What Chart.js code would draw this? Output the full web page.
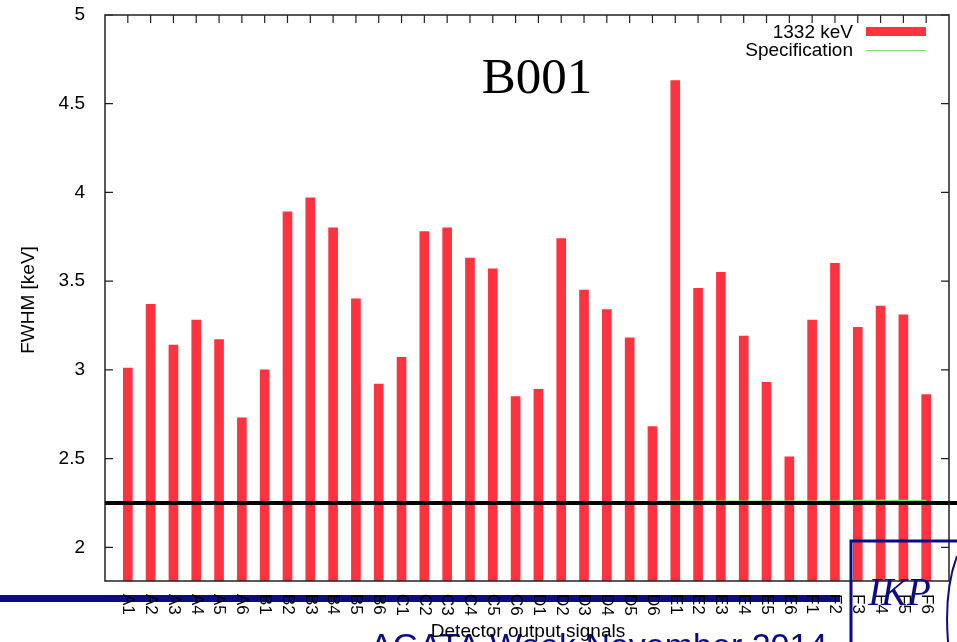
<!DOCTYPE html>
<html lang="en">
<head>
    <meta charset="UTF-8">
    <title>B001 FWHM</title>
    <script src="https://cdn.jsdelivr.net/npm/chart.js"></script>
    <style>
        html, body { margin: 0; padding: 0; background: #fff; }
        #wrap { width: 957px; height: 642px; position: relative; }
    </style>
</head>
<body>
    <div id="wrap"><canvas id="fwhmChart"></canvas></div>
    <script>
        // data
        const categories = ['A1', 'A2', 'A3', 'A4', 'A5', 'A6',
                            'B1', 'B2', 'B3', 'B4', 'B5', 'B6',
                            'C1', 'C2', 'C3', 'C4', 'C5', 'C6',
                            'D1', 'D2', 'D3', 'D4', 'D5', 'D6',
                            'E1', 'E2', 'E3', 'E4', 'E5', 'E6',
                            'F1', 'F2', 'F3', 'F4', 'F5', 'F6'];
        const fwhm = [3.01, 3.37, 3.14, 3.28, 3.17, 2.73,
                      3.00, 3.89, 3.97, 3.80, 3.40, 2.92,
                      3.07, 3.78, 3.80, 3.63, 3.57, 2.85,
                      2.89, 3.74, 3.45, 3.34, 3.18, 2.68,
                      4.63, 3.46, 3.55, 3.19, 2.93, 2.51,
                      3.28, 3.60, 3.24, 3.36, 3.31, 2.86];
        const spec = [2.252, 2.252, 2.252, 2.252, 2.252, 2.252,
                      2.253, 2.253, 2.253, 2.253, 2.253, 2.253,
                      2.255, 2.255, 2.255, 2.255, 2.255, 2.255,
                      2.257, 2.257, 2.257, 2.257, 2.257, 2.257,
                      2.259, 2.259, 2.259, 2.259, 2.259, 2.259,
                      2.260, 2.260, 2.263, 2.263, 2.263, 2.263];
        const yTicks = [2, 2.5, 3, 3.5, 4, 4.5, 5];
        const refLevel = 2.25;

        const sans = '"Liberation Sans", Arial, sans-serif';
        const serif = '"Liberation Serif", "Times New Roman", serif';
        const navy = '#0b0b84';

        // gnuplot-like frame, ticks, labels and the slide overlay
        const decor = {
            id: 'decor',
            beforeDatasetsDraw(chart) {
                // bottom ticks sit behind the bars
                const ctx = chart.ctx;
                const a = chart.chartArea;
                const x = chart.scales.x;
                ctx.save();
                ctx.strokeStyle = '#222';
                ctx.lineWidth = 1.2;
                ctx.beginPath();
                categories.forEach((c, i) => {
                    const px = x.getPixelForValue(i + 1);
                    ctx.moveTo(px, a.bottom); ctx.lineTo(px, a.bottom - 8);
                });
                ctx.stroke();
                ctx.restore();
            },
            afterDatasetsDraw(chart) {
                const ctx = chart.ctx;
                const a = chart.chartArea;
                const x = chart.scales.x, y = chart.scales.y;
                ctx.save();

                // black reference line
                const yr = y.getPixelForValue(refLevel);
                ctx.strokeStyle = '#000';
                ctx.lineWidth = 4;
                ctx.beginPath();
                ctx.moveTo(a.left, yr);
                ctx.lineTo(chart.width, yr);
                ctx.stroke();

                // frame
                ctx.strokeStyle = '#222';
                ctx.lineWidth = 1.5;
                ctx.strokeRect(a.left, a.top, a.right - a.left, a.bottom - a.top);

                // ticks
                ctx.lineWidth = 1.2;
                ctx.beginPath();
                yTicks.forEach(v => {
                    const py = y.getPixelForValue(v);
                    ctx.moveTo(a.left, py); ctx.lineTo(a.left + 8, py);
                    ctx.moveTo(a.right, py); ctx.lineTo(a.right - 8, py);
                });
                categories.forEach((c, i) => {
                    const px = x.getPixelForValue(i + 1);
                    ctx.moveTo(px, a.top); ctx.lineTo(px, a.top + 8);
                });
                ctx.stroke();

                // title
                ctx.fillStyle = '#000';
                ctx.font = '51px ' + serif;
                ctx.textAlign = 'center';
                ctx.textBaseline = 'alphabetic';
                ctx.fillText('B001', 537, 93);

                // key
                ctx.font = '19px ' + sans;
                ctx.textAlign = 'right';
                ctx.textBaseline = 'middle';
                ctx.fillText('1332 keV', 853, 33);
                ctx.fillText('Specification', 853, 51);
                ctx.fillStyle = '#ff3340';
                ctx.fillRect(866, 27, 60, 9);
                ctx.strokeStyle = '#7fe57a';
                ctx.lineWidth = 1;
                ctx.beginPath();
                ctx.moveTo(866, 50.5); ctx.lineTo(926, 50.5);
                ctx.stroke();

                // y axis title
                ctx.fillStyle = '#000';
                ctx.save();
                ctx.translate(29, 300);
                ctx.rotate(-Math.PI / 2);
                ctx.textAlign = 'center';
                ctx.textBaseline = 'middle';
                ctx.fillText('FWHM [keV]', 0, 0);
                ctx.restore();

                // slide overlay: navy bar behind the labels
                ctx.fillStyle = navy;
                ctx.fillRect(0, 595, 840, 7);

                // x tick labels, reading top to bottom
                ctx.fillStyle = '#000';
                ctx.font = '17px ' + sans;
                ctx.textAlign = 'left';
                ctx.textBaseline = 'middle';
                categories.forEach((c, i) => {
                    const px = x.getPixelForValue(i + 1);
                    ctx.save();
                    ctx.translate(px, 594);
                    ctx.rotate(Math.PI / 2);
                    ctx.fillText(c, 0, 0);
                    ctx.restore();
                });

                // slide footer text
                ctx.fillStyle = navy;
                ctx.font = '34px ' + sans;
                ctx.textAlign = 'left';
                ctx.textBaseline = 'alphabetic';
                ctx.fillText('AGATA Week November 2014', 370, 657);

                ctx.fillStyle = '#000';
                ctx.font = '19px ' + sans;
                ctx.textAlign = 'center';
                ctx.fillText('Detector output signals', 528, 637);

                // IKP logo box
                ctx.strokeStyle = navy;
                ctx.lineWidth = 3;
                ctx.beginPath();
                ctx.moveTo(851, 642); ctx.lineTo(851, 541); ctx.lineTo(957, 541);
                ctx.stroke();
                ctx.lineWidth = 2;
                ctx.beginPath();
                ctx.moveTo(957, 556);
                ctx.quadraticCurveTo(944, 590, 948, 642);
                ctx.stroke();
                ctx.fillStyle = navy;
                ctx.font = 'italic 39px ' + serif;
                ctx.textAlign = 'left';
                ctx.fillText('IKP', 868, 605);

                ctx.restore();
            }
        };

        const ctx = document.getElementById('fwhmChart').getContext('2d');
        const fwhmChart = new Chart(ctx, {
            type: 'bar',
            data: {
                datasets: [{
                    label: '1332 keV',
                    data: fwhm.map((v, i) => ({ x: i + 1, y: v })),
                    backgroundColor: '#ff3340',
                    borderWidth: 0,
                    barThickness: 9,
                    order: 2
                }, {
                    type: 'line',
                    label: 'Specification',
                    data: spec.map((v, i) => ({ x: i + 1, y: v })),
                    borderColor: '#7fe57a',
                    borderWidth: 1.5,
                    pointRadius: 0,
                    order: 1
                }]
            },
            options: {
                responsive: true,
                maintainAspectRatio: false,
                animation: false,
                layout: { padding: { top: 15, right: 8, bottom: 61, left: 0 } },
                plugins: {
                    legend: { display: false },
                    tooltip: { enabled: false }
                },
                scales: {
                    x: {
                        type: 'linear',
                        min: 0,
                        max: 37,
                        offset: false,
                        display: false
                    },
                    y: {
                        min: 1.81,
                        max: 5,
                        grid: { display: false },
                        border: { display: false },
                        afterBuildTicks: s => { s.ticks = yTicks.map(v => ({ value: v })); },
                        afterFit: s => { s.width = 105; s.paddingTop = 0; s.paddingBottom = 0; },
                        ticks: {
                            padding: 12,
                            color: '#000',
                            font: { family: sans, size: 19 },
                            callback: v => String(v)
                        }
                    }
                }
            },
            plugins: [decor]
        });
    </script>
</body>
</html>
